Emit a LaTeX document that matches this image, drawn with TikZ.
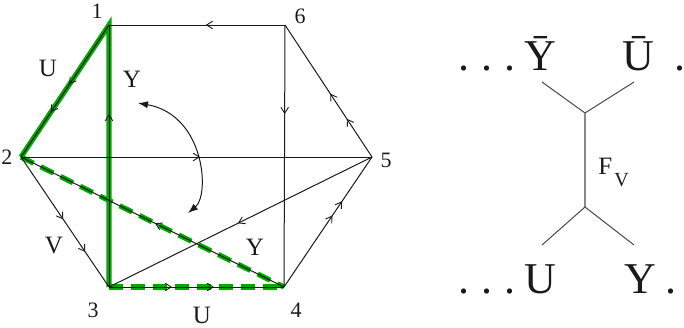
\documentclass[tikz,border=0pt]{standalone}
\usepackage{fontspec}
\setmainfont{Liberation Serif}
\usetikzlibrary{arrows.meta,decorations.markings}
\definecolor{Ink}{HTML}{1A1A1A}
\definecolor{Leaf}{HTML}{00A800}
\definecolor{Stem}{HTML}{8A8A8A}
\tikzset{
  chev/.tip={Straight Barb[length=3pt,width=3.8pt,line width=0.45pt]},
  edge/.style={draw=Ink,line width=0.5pt},
  pathband/.style={draw=Leaf,line width=2.6pt},
  dashband/.style={draw=Leaf,line width=2.6pt,dash pattern=on 7pt off 4pt},
  onearrow/.style={postaction={decorate,decoration={markings,mark=at position #1 with {\arrow{chev}}}}},
  twoarrow/.style 2 args={postaction={decorate,decoration={markings,mark=at position #1 with {\arrow{chev}},mark=at position #2 with {\arrow{chev}}}}},
  num/.style={font=\fontsize{11}{13}\selectfont,text=Ink,inner sep=0pt},
  elabel/.style={font=\fontsize{12.5}{14}\selectfont,text=Ink,inner sep=0pt},
  big/.style={font=\fontsize{22}{25}\selectfont,text=Ink,inner sep=0pt,anchor=base},
  leg/.style={draw=Ink!80,line width=0.5pt}
}
\begin{document}
\begin{tikzpicture}[x=0.5pt,y=-0.5pt]
  \useasboundingbox (0,0) rectangle (684,327);
  % hexagon corners
  \coordinate (v1) at (109,25);
  \coordinate (v2) at (21,157);
  \coordinate (v3) at (109,287);
  \coordinate (v4) at (284,287);
  \coordinate (v5) at (372,157);
  \coordinate (v6) at (285,25);
  \node[num] (n1) at (97,11) {1};
  \node[num] (n2) at (7,157) {2};
  \node[num] (n3) at (93,310) {3};
  \node[num] (n4) at (296,310) {4};
  \node[num] (n5) at (386,160) {5};
  \node[num] (n6) at (300,16) {6};
  % green path
  \draw[pathband] (v3) -- (v1) -- (v2);
  \draw[dashband] (v2) -- (v4);
  \draw[dashband] (v3) -- (v4);
  % edges
  \draw[edge,onearrow=0.45] (v6) -- (v1);
  \draw[edge,onearrow=0.34] (v6) -- (v4);
  \draw[edge,twoarrow={0.29}{0.48}] (v5) -- (v6);
  \draw[edge,twoarrow={0.55}{0.66}] (v4) -- (v5);
  \draw[edge,twoarrow={0.36}{0.6}] (v3) -- (v4);
  \draw[edge,twoarrow={0.48}{0.73}] (v2) -- (v3);
  \draw[edge,twoarrow={0.45}{0.66}] (v1) -- (v2);
  \draw[edge,onearrow=0.66] (v3) -- (v1);
  \draw[edge,onearrow=0.49] (v4) -- (v2);
  \draw[edge,onearrow=0.51] (v5) -- (v3);
  \draw[edge,onearrow=0.51] (v2) -- (v5);
  % swap arrow
  \coordinate (sw1) at (138,103);
  \coordinate (sw2) at (188,213);
  \draw[edge,{Latex[length=5pt,width=3.6pt]}-{Latex[length=5pt,width=3.6pt]}]
    (sw1) .. controls (205,115) and (210,195) .. (sw2);
  \node[elabel] (u12) at (48,68) {U};
  \node[elabel] (y13) at (132,79) {Y};
  \node[elabel] (v23) at (54,245) {V};
  \node[elabel] (y24) at (255,247) {Y};
  \node[elabel] (u34) at (202,315) {U};
  % vertex on the right
  \node[big] (dtop) at (487,70) {.\kern6pt.\kern6pt.};
  \node[big] (ybar) at (540,70) {\=Y};
  \node[big] (ubar) at (638,70) {\=U};
  \node[big] (etop) at (680,70) {.};
  \node[big] (dbot) at (487,293) {.\kern6pt.\kern6pt.};
  \node[big] (ulow) at (540,293) {U};
  \node[big] (ylow) at (640,293) {Y};
  \node[big] (ebot) at (671,293) {.};
  \coordinate (jt) at (585,113);
  \coordinate (jb) at (585,207);
  \coordinate (ta) at (542,82);
  \coordinate (tb) at (634,82);
  \coordinate (ba) at (542,245);
  \coordinate (bb) at (634,245);
  \draw[leg] (ta) -- (jt) -- (tb);
  \draw[draw=Stem,line width=0.6pt] (jt) -- (jb);
  \draw[leg] (ba) -- (jb) -- (bb);
  \node[elabel,anchor=base west] (fv) at (598,174) {F\kern1pt\raisebox{-1.1ex}{\fontsize{10}{11}\selectfont V}};
\end{tikzpicture}
\end{document}
